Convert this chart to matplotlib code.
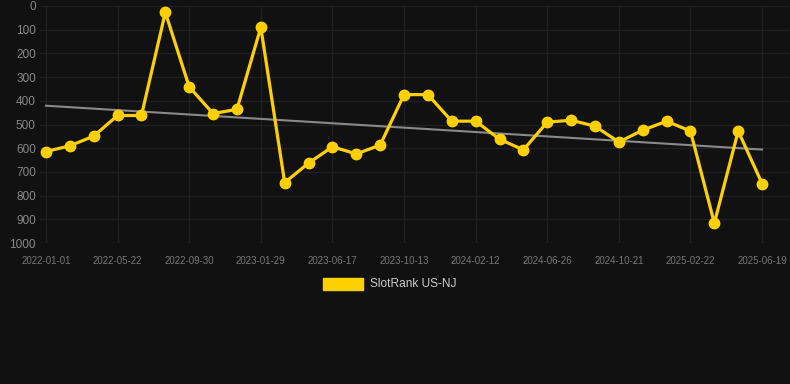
import numpy as np
import matplotlib.pyplot as plt

# Data (rank, lower is better)
dates = ["2022-01-01", "2022-05-22", "2022-09-30", "2023-01-29", "2023-06-17", "2023-10-13",
         "2024-02-12", "2024-06-26", "2024-10-21", "2025-02-22", "2025-06-19"]
ranks = [614, 590, 549, 462, 462, 27, 341, 454, 436, 90,
         745, 663, 594, 624, 587, 374, 374, 486, 486, 562,
         607, 490, 482, 507, 574, 524, 486, 528, 916, 528, 749]
series_name = "SlotRank US-NJ"

bg = "#111111"
gold = "#FFD000"

W, H = 790, 384
fig = plt.figure(figsize=(W / 100, H / 100), dpi=100, facecolor=bg)
ax = fig.add_axes([40 / W, 1 - 243 / H, 750 / W, 237 / H], facecolor=bg)

x = np.arange(len(ranks))

# Linear trend line
slope, inter = np.polyfit(x, ranks, 1)
ax.plot(x, slope * x + inter, color="#8a8a8a", lw=1.5, zorder=2)

ax.plot(x, ranks, color=gold, lw=2.3, marker="o", ms=7.5, zorder=3)

ax.set_ylim(1000, 0)
ax.set_xlim(-0.25, 31.17)
ax.set_yticks(np.arange(0, 1001, 100))
ax.set_xticks(x[::3])
ax.set_xticklabels(dates)

for s in ax.spines.values():
    s.set_visible(False)
ax.grid(True, color="#202020", lw=1)
ax.set_axisbelow(True)
ax.tick_params(length=0)
ax.tick_params(axis="y", colors="#888888", labelsize=8.5, pad=3)
ax.tick_params(axis="x", colors="#777777", labelsize=7, pad=9)
for lab in ax.get_xticklabels() + ax.get_yticklabels():
    lab.set_family("Liberation Sans")

# Legend
fig.patches.append(plt.Rectangle((323 / W, 1 - 290 / H), 40 / W, 12 / H,
                                 transform=fig.transFigure, color=gold))
fig.text(370 / W, 1 - 284 / H, series_name, color="#cccccc", fontsize=8.6,
         family="Liberation Sans", va="center", ha="left")

fig.savefig("out.png", dpi=100, facecolor=bg)
